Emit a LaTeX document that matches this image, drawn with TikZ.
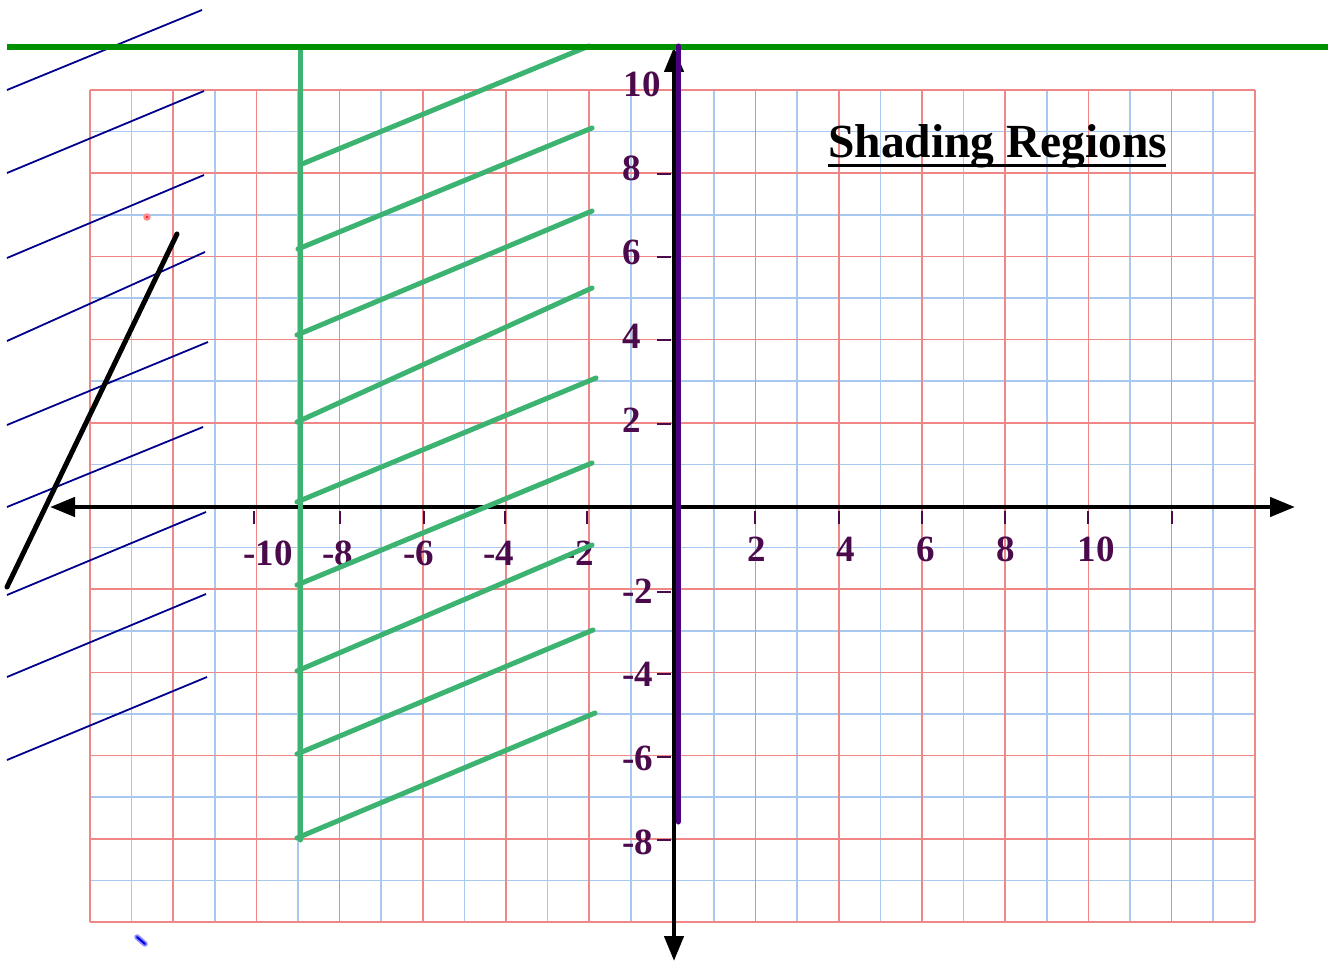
\documentclass[tikz,border=0pt]{standalone}
\usepackage{fontspec}
\setmainfont{Liberation Serif}
\usetikzlibrary{arrows.meta}
\definecolor{gridred}{RGB}{240,135,135}
\definecolor{gridblue}{RGB}{168,200,240}
\definecolor{labpurple}{RGB}{75,10,75}
\definecolor{hatchgreen}{RGB}{60,179,113}
\definecolor{topgreen}{RGB}{0,145,0}
\definecolor{axpurple}{RGB}{75,0,130}
\definecolor{navyline}{RGB}{0,0,140}
\begin{document}
\begin{tikzpicture}[x=1pt,y=-1pt,
  gridr/.style={gridred,line width=1.6pt},
  gridb/.style={gridblue,line width=1.6pt},
  axisline/.style={black,line width=4.5pt,
    {Triangle[length=25pt,width=19pt]}-{Triangle[length=25pt,width=19pt]}},
  tickmark/.style={labpurple,line width=2.5pt},
  ticklab/.style={labpurple,inner sep=0pt,font=\fontsize{37}{37}\selectfont\bfseries},
  navyhatch/.style={navyline,line width=1.8pt},
  greenhatch/.style={hatchgreen,line width=5pt,line cap=round},
  blackline/.style={black,line width=5pt,line cap=round},
  titlefont/.style={inner sep=0pt,font=\fontsize{47.5}{47.5}\selectfont\bfseries}
]
\useasboundingbox (0,0) rectangle (1334,963);
% grid
\foreach \i in {1,3,...,27} {\draw[gridb] (90+41.6*\i,90) -- (90+41.6*\i,922);}
\foreach \j in {1,3,...,19} {\draw[gridb] (90,90+41.6*\j) -- (1254.8,90+41.6*\j);}
\foreach \i in {0,2,...,28} {\draw[gridr] (90+41.6*\i,90) -- (90+41.6*\i,922);}
\foreach \j in {0,2,...,20} {\draw[gridr] (90,90+41.6*\j) -- (1254.8,90+41.6*\j);}
% axes
\coordinate (xl) at (50,507);
\coordinate (xr) at (1295,507);
\coordinate (yt) at (674,47);
\coordinate (yb) at (674,961);
\draw[axisline] (xl) -- (xr);
\draw[axisline] (yb) -- (yt);
% x ticks
\foreach \x in {254,340,424,505,587,755,839,922,1005,1088,1172} {\draw[tickmark] (\x,511) -- (\x,524);}
% y ticks
\foreach \y in {174,257,340,424,592,674,757,840} {\draw[tickmark] (657,\y) -- (671,\y);}
% x labels
\node[ticklab] (xm10) at (268,553) {-10};
\node[ticklab] (xm8) at (338,553) {-8};
\node[ticklab] (xm6) at (419,553) {-6};
\node[ticklab] (xm4) at (499,553) {-4};
\node[ticklab] (xm2) at (579,553) {-2};
\node[ticklab] (xp2) at (757,549) {2};
\node[ticklab] (xp4) at (846,549) {4};
\node[ticklab] (xp6) at (926,549) {6};
\node[ticklab] (xp8) at (1006,549) {8};
\node[ticklab] (xp10) at (1096,549) {10};
% y labels
\node[ticklab] (yp10) at (642,84) {10};
\node[ticklab] (yp8) at (632,168) {8};
\node[ticklab] (yp6) at (632,252) {6};
\node[ticklab] (yp4) at (632,336) {4};
\node[ticklab] (yp2) at (632,420) {2};
\node[ticklab] (ym2) at (638,591) {-2};
\node[ticklab] (ym4) at (638,674) {-4};
\node[ticklab] (ym6) at (638,758) {-6};
\node[ticklab] (ym8) at (638,842) {-8};
% navy hatch lines
\draw[navyhatch] (7,90) -- (202,10);
\draw[navyhatch] (7,173) -- (204,91);
\draw[navyhatch] (7,258) -- (204,175);
\draw[navyhatch] (7,341) -- (205,252);
\draw[navyhatch] (7,425) -- (208,342);
\draw[navyhatch] (7,507) -- (203,427);
\draw[navyhatch] (7,595) -- (206,512);
\draw[navyhatch] (7,677) -- (206,594);
\draw[navyhatch] (7,760) -- (207,677);
% black slanted line
\draw[blackline] (177,234) -- (7,587);
% green vertical and hatches
\draw[greenhatch] (300,47) -- (300,840);
\draw[greenhatch] (302,164) -- (589,46);
\draw[greenhatch] (298,249) -- (592,128);
\draw[greenhatch] (297,335) -- (592,211);
\draw[greenhatch] (297,422) -- (592,288);
\draw[greenhatch] (297,502) -- (596,378);
\draw[greenhatch] (297,585) -- (592,463);
\draw[greenhatch] (297,671) -- (592,545);
\draw[greenhatch] (297,754) -- (593,630);
\draw[greenhatch] (297,838) -- (595,713);
% top green line
\draw[topgreen,line width=5.5pt] (7,47) -- (1328,47);
% purple line
\draw[axpurple,line width=5pt,line cap=round] (678,46) -- (678,822);
% dots
\fill[red!45] (147,217) circle (3.8);
\fill[red] (147,217) circle (1.2);
\draw[blue!45,line width=5.5pt,line cap=round] (137,937) -- (145,944);
\draw[blue!90!black,line width=2pt,line cap=round] (137,937) -- (145,944);
% title
\node[titlefont,anchor=base west] (title) at (828,158) {Shading Regions};
\draw[black,line width=3pt] (828,166) -- (1166,166);
\end{tikzpicture}
\end{document}
